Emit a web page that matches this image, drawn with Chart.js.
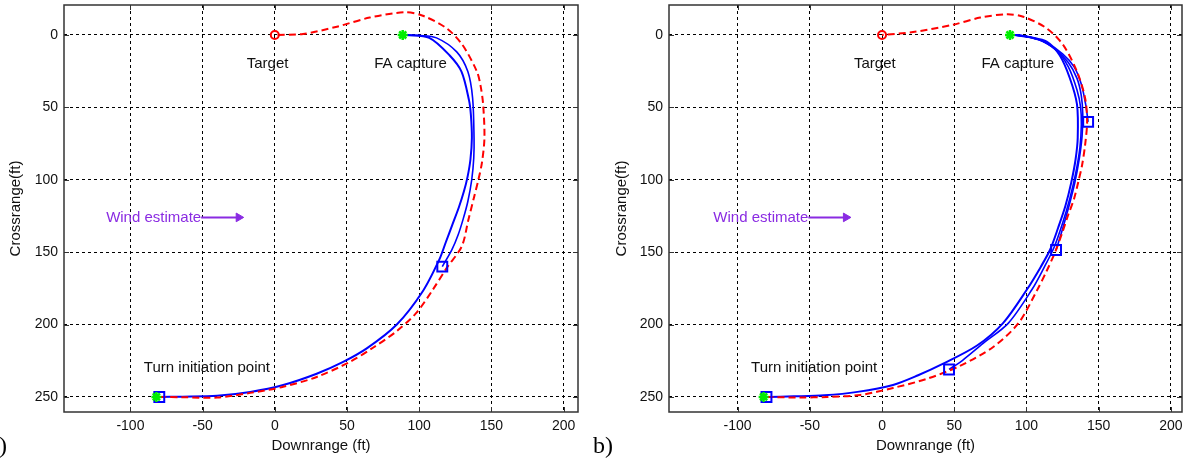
<!DOCTYPE html>
<html><head><meta charset="utf-8">
<script src="https://cdn.jsdelivr.net/npm/chart.js@4.4.1/dist/chart.umd.min.js"></script>
<style>
html,body{margin:0;padding:0;background:#fff;overflow:hidden}
#wrap{position:relative;width:1184px;height:459px;background:#fff}
canvas{position:absolute;top:0}
</style></head><body>
<div id="wrap"><canvas id="ca" width="592" height="459" style="left:0"></canvas><canvas id="cb" width="592" height="459" style="left:592px"></canvas></div>
<script>
// ---------- data ----------
const xTicks = [-100, -50, 0, 50, 100, 150, 200];
const yTicks = [0, 50, 100, 150, 200, 250];

const targetPoint = [[0, 0]];
const captureStars = [[88.6, 0], [-82, 250]];

// panel a)
const refPathA = [[-80,250],[-64,250.2],[-40,250.4],[-17,247.2],[5.8,243],[29,236.2],[52,225.8],[68,216],[84.5,204.5],[98,192],[109.4,176],[119,161],[129.5,146],[134,128],[138,112],[141,100],[143.5,88],[145.2,71],[144.3,48],[142.5,35],[140,25.3],[130,6.9],[119,-4.6],[102.5,-13.3],[90,-15.7],[65.7,-12],[43,-5.7],[19.6,-0.7],[0,0]];
const flightA1 = [[-80,250],[-64,249.8],[-40,249.2],[-17,246.6],[5.8,241.8],[29,234],[47,226],[63.7,216.5],[84.5,200],[102.5,177],[114,155],[118.5,143],[123,131],[127.5,119],[131,108],[133.5,98],[135.5,86],[136.5,71],[135.8,55],[134.5,45],[129.3,25.3],[121,14],[107,2],[91,0]];
const flightA2 = [[116,160],[122.6,148.5],[127,138],[130.5,127],[133.7,115],[136.4,100],[137.8,85],[138,71],[137,43.5],[133.7,25.3],[126,11.7],[112,2],[100,0.3],[91,0]];
const squaresA = [[-80,250],[116,160]];

// panel b)
const refPathB = [[-80,250],[-57,250.4],[-38,250],[-15,248.6],[7.6,243.8],[31,237.5],[54,228.5],[77,215.5],[94.5,199],[107,177],[114,163],[120,149.6],[125,136],[129,124],[133,113],[136,101],[138.5,90],[140.6,76],[142,60],[140.6,43.5],[135,25.3],[125.5,7],[114,-4.6],[97.8,-12.6],[86.5,-14.3],[68,-12],[49,-7],[21.5,-2],[0,0]];
const flightB1 = [[-80,250],[-61,249.6],[-40,248.9],[-17,246.5],[7.6,241.7],[25,235],[42,227.2],[65.8,214.5],[83.8,199],[100.2,176],[110,160],[116.5,148],[122,133],[127,118],[131,102],[134,86],[135.5,71],[135,48],[130,29.7],[123,14],[114,4.6],[102.5,1.5],[93.5,0],[88.6,0]];
const flightB2 = [[46.4,231],[56,224.5],[70,213],[87.5,199],[103.7,176],[112,161],[119,147],[125,130],[130,113],[134,96],[137,78],[138,62],[137.5,50],[135,38],[129,22],[120,10],[108,3],[97,0.5],[91,0]];
const flightB3 = [[120.5,148.5],[125,134],[129.5,118],[133.5,102],[136.5,86],[138.5,70],[139,55],[138,42],[135,30],[129,19],[120,10],[108,3],[91,0]];
const flightB4 = [[142.7,60],[141,48],[138,34],[133,22],[125,13],[113,5],[100,1],[91,0]];
const squaresB = [[-80,250],[46.4,231],[120.5,148.5],[142.7,60]];

const windArrow = [[-51,126],[-25,126]];
const noteTexts = ['Target', 'FA capture', 'Turn initiation point'];
const noteAt = [[-5,20],[94,20],[-47,230]];
const windText = 'Wind estimate';
const windTextEnd = [-51,126];

// ---------- helpers ----------
const pts = a => a.map(p => ({x: p[0], y: p[1]}));
const RED = '#ff0000', BLUE = '#0000ff', GREEN = '#00ee00', PURPLE = '#8a2be2';
const FONT = '"Liberation Sans", Arial, sans-serif';

function makeChart(id, o) {
  const datasets = [];
  datasets.push({data: pts(captureStars), showLine: false, pointStyle: 'star', pointRadius: 5, borderColor: GREEN, backgroundColor: GREEN, pointBorderWidth: 2.5});
  datasets.push({data: pts(o.squares), showLine: false, pointStyle: 'rect', pointRadius: 7, borderColor: BLUE, backgroundColor: 'rgba(0,0,0,0)', pointBorderWidth: 2});
  datasets.push({data: pts(targetPoint), showLine: false, pointStyle: 'circle', pointRadius: 4, borderColor: RED, backgroundColor: 'rgba(0,0,0,0)', pointBorderWidth: 2});
  datasets.push({data: pts(o.ref), showLine: true, pointRadius: 0, borderColor: RED, borderWidth: 2, borderDash: [7, 4], tension: 0.3});
  o.flights.forEach((f, i) => datasets.push({data: pts(f), showLine: true, pointRadius: 0, borderColor: BLUE, borderWidth: i === 0 ? 2 : 1.6, tension: 0.3}));
  datasets.push({data: pts(windArrow), showLine: true, borderColor: PURPLE, backgroundColor: PURPLE, borderWidth: 2,
    pointRadius: [0, 5], pointStyle: 'triangle', rotation: 90, pointBorderWidth: 1});

  const framePlugin = {
    id: 'frame',
    afterDatasetsDraw(chart) {
      const {ctx, chartArea: a, scales: {x, y}} = chart;
      ctx.save();
      ctx.font = '15px ' + FONT;
      ctx.fillStyle = '#111';
      ctx.textAlign = 'center';
      ctx.textBaseline = 'middle';
      noteTexts.forEach((t, i) => ctx.fillText(t, x.getPixelForValue(noteAt[i][0]), y.getPixelForValue(noteAt[i][1])));
      ctx.fillStyle = PURPLE;
      ctx.textAlign = 'right';
      ctx.fillText(windText, x.getPixelForValue(windTextEnd[0]), y.getPixelForValue(windTextEnd[1]));
      ctx.strokeStyle = '#333';
      ctx.lineWidth = 1.5;
      ctx.strokeRect(a.left, a.top, a.right - a.left, a.bottom - a.top);
      ctx.lineWidth = 1;
      ctx.beginPath();
      xTicks.forEach(v => { const p = Math.round(x.getPixelForValue(v)) + 0.5;
        ctx.moveTo(p, a.bottom); ctx.lineTo(p, a.bottom - 5); ctx.moveTo(p, a.top); ctx.lineTo(p, a.top + 5); });
      yTicks.forEach(v => { const p = Math.round(y.getPixelForValue(v)) + 0.5;
        ctx.moveTo(a.left, p); ctx.lineTo(a.left + 5, p); ctx.moveTo(a.right, p); ctx.lineTo(a.right - 5, p); });
      ctx.stroke();
      ctx.fillStyle = '#000';
      ctx.font = '24px "Liberation Serif", "Times New Roman", serif';
      ctx.textAlign = o.letterAlign;
      ctx.textBaseline = 'alphabetic';
      ctx.fillText(o.letter, o.letterX, 453);
      ctx.restore();
    }
  };

  return new Chart(document.getElementById(id), {
    type: 'scatter',
    data: {datasets},
    options: {
      responsive: false, animation: false, events: [],
      layout: {autoPadding: false, padding: {left: 0, right: o.padRight, top: 5, bottom: 0}},
      plugins: {legend: {display: false}, tooltip: {enabled: false}},
      scales: {
        x: {
          type: 'linear', min: o.xMin, max: o.xMax,
          afterBuildTicks: s => { s.ticks = xTicks.map(v => ({value: v})); },
          afterFit: s => { s.height = 47; s.paddingLeft = 0; s.paddingRight = 0; s.paddingTop = 0; s.paddingBottom = 0; },
          grid: {color: '#000', lineWidth: 1, drawTicks: false},
          border: {display: false, dash: [3, 3]},
          ticks: {padding: 6, color: '#111', font: {family: FONT, size: 14}, autoSkip: false, maxRotation: 0},
          title: {display: true, text: 'Downrange (ft)', color: '#111', font: {family: FONT, size: 15}, padding: {top: 0, bottom: 4}}
        },
        y: {
          type: 'linear', min: -20.7, max: 260.4, reverse: true,
          afterBuildTicks: s => { s.ticks = yTicks.map(v => ({value: v})); },
          afterFit: s => { s.width = o.yWidth; s.paddingTop = 0; s.paddingBottom = 0; s.paddingLeft = 0; s.paddingRight = 0; },
          grid: {color: '#000', lineWidth: 1, drawTicks: false},
          border: {display: false, dash: [3, 3]},
          ticks: {padding: 6, color: '#111', font: {family: FONT, size: 14}, autoSkip: false},
          title: {display: true, text: 'Crossrange(ft)', color: '#111', font: {family: FONT, size: 15}, padding: {top: o.yTitlePad, bottom: 0}}
        }
      }
    },
    plugins: [framePlugin]
  });
}

makeChart('ca', {xMin: -146, xMax: 210, padRight: 14, yWidth: 64, yTitlePad: 7,
  ref: refPathA, flights: [flightA1, flightA2], squares: squaresA, letter: 'a)', letterX: 7, letterAlign: 'right'});
makeChart('cb', {xMin: -147.5, xMax: 207.7, padRight: 2, yWidth: 77, yTitlePad: 21,
  ref: refPathB, flights: [flightB1, flightB2, flightB3, flightB4], squares: squaresB, letter: 'b)', letterX: 1, letterAlign: 'left'});
</script>
</body></html>
